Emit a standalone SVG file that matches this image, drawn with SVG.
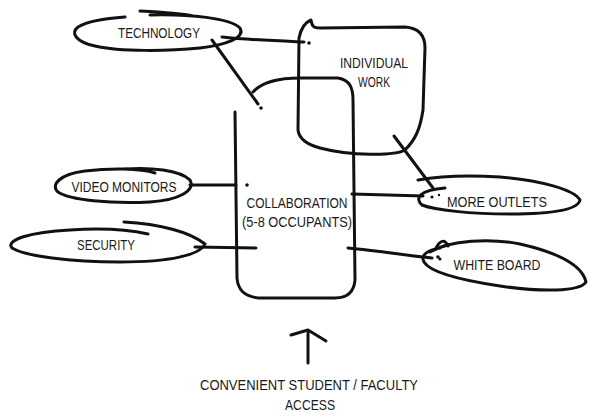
<svg xmlns="http://www.w3.org/2000/svg" width="592" height="417" viewBox="0 0 592 417">
<style>
.s{fill:none;stroke:#111;stroke-width:3;stroke-linecap:round;stroke-linejoin:round}
.t{font-family:"Liberation Sans",Arial,sans-serif;font-size:14px;fill:#1a1a1a;text-anchor:middle}
.d{fill:#111}
</style>
<rect width="592" height="417" fill="#fff"/>
<g id="connectors">
<path class="s" d="M222,37 C250,40 280,41 304,42"/>
<circle class="d" cx="309" cy="43" r="1.8"/>
<path class="s" d="M212,40 L258,104"/>
<circle class="d" cx="261" cy="108" r="1.8"/>
<path class="s" d="M190,185 L236,185"/>
<circle class="d" cx="247" cy="185" r="1.8"/>
<path class="s" d="M195,247 L256,248"/>
<path class="s" d="M352,194 L423,196"/>
<path class="s" d="M394,136 L433,188"/>
<path class="s" d="M348,248 C380,251 410,256 432,258"/>
<circle class="d" cx="438" cy="257" r="1.8"/>
</g>
<g id="technology">
<path class="s" d="M140,11 C160,12 180,13 193,16 M150,15 C190,14 230,18 240,28 C246,38 225,45 200,48 C170,51 120,52 95,46 C76,42 70,33 78,27 C90,20 110,18 125,17"/>
<text class="t" x="159" y="38" textLength="82" lengthAdjust="spacingAndGlyphs">TECHNOLOGY</text>
</g>
<g id="individual-work">
<path class="s" d="M298,130 L299,38 C301,28 306,22 311,20 C312,26 313,28 320,28 L405,27 C420,28 425,36 425,48 L423,110 C420,130 415,140 405,150 C395,156 350,156 320,148 C305,144 299,138 298,130"/>
<text class="t" x="374" y="68" textLength="68" lengthAdjust="spacingAndGlyphs">INDIVIDUAL</text>
<text class="t" x="374" y="87" textLength="32" lengthAdjust="spacingAndGlyphs">WORK</text>
</g>
<g id="collaboration">
<path class="s" d="M253,92 C262,82 280,78 300,78 L338,78 C350,80 353,88 353,100 L355,280 C354,292 348,298 335,298 L258,298 C244,296 238,290 237,278 L235,112"/>
<text class="t" x="297" y="208" textLength="101" lengthAdjust="spacingAndGlyphs">COLLABORATION</text>
<text class="t" x="297" y="227" textLength="110" lengthAdjust="spacingAndGlyphs">(5-8 OCCUPANTS)</text>
</g>
<g id="video-monitors">
<path class="s" d="M125,169 C150,167 180,170 190,180 C196,190 180,200 150,202 C110,204 70,200 58,192 C50,185 60,174 85,171 C110,168 140,168 155,173"/>
<text class="t" x="124" y="192" textLength="105" lengthAdjust="spacingAndGlyphs">VIDEO MONITORS</text>
</g>
<g id="security">
<path class="s" d="M124,222 C160,224 190,232 205,244 C200,255 170,262 120,262 C70,262 25,256 12,248 C5,240 30,232 70,230 C100,228 130,230 148,234"/>
<text class="t" x="106" y="250" textLength="58" lengthAdjust="spacingAndGlyphs">SECURITY</text>
</g>
<g id="more-outlets">
<path class="s" d="M418,180 C440,176 470,175 500,177 C540,180 575,190 580,200 C578,210 550,214 510,214 C470,214 435,210 422,205 C414,198 420,190 445,188"/>
<circle class="d" cx="432" cy="197" r="1.6"/>
<circle class="d" cx="439" cy="195" r="1.2"/>
<text class="t" x="497" y="207" textLength="100" lengthAdjust="spacingAndGlyphs">MORE OUTLETS</text>
</g>
<g id="white-board">
<path class="s" d="M436,248 C440,240 445,239 448,246 M430,252 C450,240 490,238 520,244 C555,252 582,264 586,282 C580,292 540,292 500,286 C460,280 430,272 424,262 C420,255 428,250 440,248"/>
<circle class="d" cx="440" cy="259" r="1.6"/>
<text class="t" x="497" y="270" textLength="87" lengthAdjust="spacingAndGlyphs">WHITE BOARD</text>
</g>
<g id="access">
<path class="s" d="M308,333 L308,363 M291,335 L308,330 L326,341"/>
<text class="t" x="309" y="390" textLength="218" lengthAdjust="spacingAndGlyphs">CONVENIENT STUDENT / FACULTY</text>
<text class="t" x="310" y="410" textLength="50" lengthAdjust="spacingAndGlyphs">ACCESS</text>
</g>
</svg>
